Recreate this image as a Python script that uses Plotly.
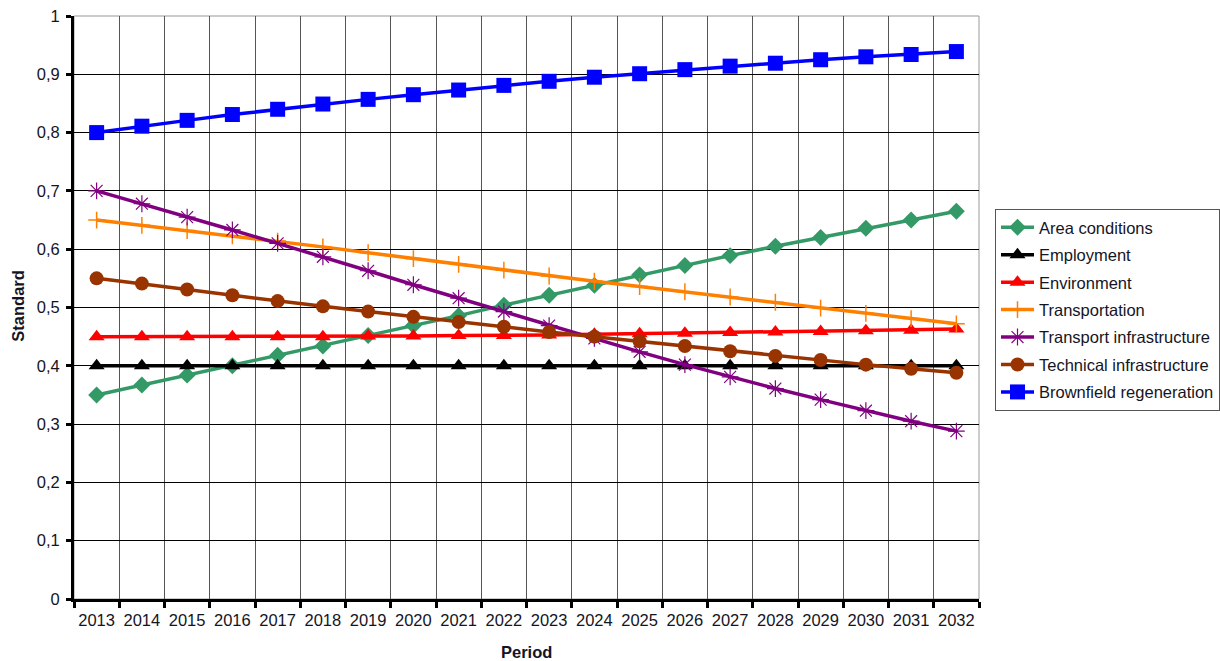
import plotly.graph_objects as go

years = [str(y) for y in range(2013, 2033)]

area_conditions = [0.350, 0.367, 0.384, 0.400, 0.418, 0.434, 0.452, 0.469, 0.486, 0.504,
                   0.521, 0.538, 0.556, 0.572, 0.589, 0.605, 0.620, 0.636, 0.650, 0.665]
employment = [0.40] * 20
environment = [0.450, 0.450, 0.450, 0.450, 0.450, 0.450, 0.451, 0.451, 0.452, 0.452,
               0.453, 0.454, 0.455, 0.456, 0.457, 0.458, 0.459, 0.460, 0.461, 0.463]
transportation = [0.650, 0.641, 0.632, 0.623, 0.614, 0.604, 0.594, 0.584, 0.574, 0.564,
                  0.554, 0.545, 0.536, 0.527, 0.518, 0.509, 0.499, 0.490, 0.481, 0.472]
transport_infra = [0.700, 0.678, 0.655, 0.633, 0.610, 0.587, 0.563, 0.539, 0.516, 0.493,
                   0.469, 0.447, 0.424, 0.402, 0.381, 0.361, 0.342, 0.323, 0.305, 0.288]
technical_infra = [0.550, 0.541, 0.531, 0.521, 0.511, 0.502, 0.493, 0.484, 0.475, 0.467,
                   0.458, 0.450, 0.442, 0.434, 0.425, 0.417, 0.410, 0.402, 0.395, 0.388]
brownfield = [0.800, 0.811, 0.821, 0.831, 0.840, 0.849, 0.857, 0.865, 0.873, 0.881,
              0.888, 0.895, 0.901, 0.908, 0.914, 0.919, 0.925, 0.930, 0.934, 0.939]

y_ticks = [0, 0.1, 0.2, 0.3, 0.4, 0.5, 0.6, 0.7, 0.8, 0.9, 1]
y_tick_labels = ["0", "0,1", "0,2", "0,3", "0,4", "0,5", "0,6", "0,7", "0,8", "0,9", "1"]

series = [
    ("Area conditions", area_conditions, "#339966", "diamond", 13, 0),
    ("Employment", employment, "#000000", "triangle-up", 14, 0),
    ("Environment", environment, "#FF0000", "triangle-up", 14, 0),
    ("Transportation", transportation, "#FF8000", "cross-thin", 12, 1.5),
    ("Transport infrastructure", transport_infra, "#800080", "asterisk", 14, 1.2),
    ("Technical infrastructure", technical_infra, "#993300", "circle", 14, 0),
    ("Brownfield regeneration", brownfield, "#0000FF", "square", 15, 0),
]

FONT = "Liberation Sans, Arial, sans-serif"
TEXT = "#15151f"

fig = go.Figure()
for i, (name, vals, color, sym, size, lw) in enumerate(series):
    marker = dict(symbol=sym, size=size, color=color)
    if lw:
        marker["line"] = dict(color=color, width=lw)
    fig.add_trace(go.Scatter(
        x=years, y=vals, name=name, mode="lines+markers",
        line=dict(color=color, width=3.5), marker=marker,
        legendgroup=f"g{i}",
    ))

fig.update_layout(
    width=1220, height=661,
    margin=dict(l=74, r=241, t=16, b=62),
    paper_bgcolor="white", plot_bgcolor="white",
    font=dict(family=FONT, size=16.5, color=TEXT),
    showlegend=True,
    legend=dict(
        xref="container", yref="container",
        x=995 / 1220, y=1 - 209 / 661, xanchor="left", yanchor="top",
        bordercolor="#555", borderwidth=1,
        font=dict(size=16.5, color=TEXT),
        tracegroupgap=3, itemwidth=33,
    ),
    xaxis=dict(
        type="category", tickson="boundaries", automargin=False,
        showgrid=True, gridcolor="#555", gridwidth=1,
        showline=True, linecolor="black", linewidth=3,
        ticks="outside", ticklen=6, tickwidth=3, tickcolor="black",
        ticklabelstandoff=4, tickangle=0,
        range=[-0.5, 19.5],
    ),
    yaxis=dict(
        range=[0, 1], tickvals=y_ticks, ticktext=y_tick_labels, automargin=False,
        showgrid=True, gridcolor="black", gridwidth=1,
        showline=True, linecolor="black", linewidth=3,
        ticks="outside", ticklen=5, tickwidth=3, tickcolor="black",
        ticklabelstandoff=3,
        zeroline=False,
    ),
    shapes=[dict(type="rect", xref="paper", yref="paper", x0=0, x1=1, y0=0, y1=1,
                 line=dict(color="#999", width=1), layer="below")],
    annotations=[
        dict(text="<b>Period</b>", xref="paper", yref="paper", x=0.5, y=-0.091,
             xanchor="center", yanchor="middle", showarrow=False,
             font=dict(size=16.5, family=FONT, color=TEXT)),
        dict(text="<b>Standard</b>", xref="paper", yref="paper", x=-0.062, y=0.503,
             xanchor="center", yanchor="middle", showarrow=False, textangle=-90,
             font=dict(size=16.5, family=FONT, color=TEXT)),
    ],
)

fig.write_html("out.html")
